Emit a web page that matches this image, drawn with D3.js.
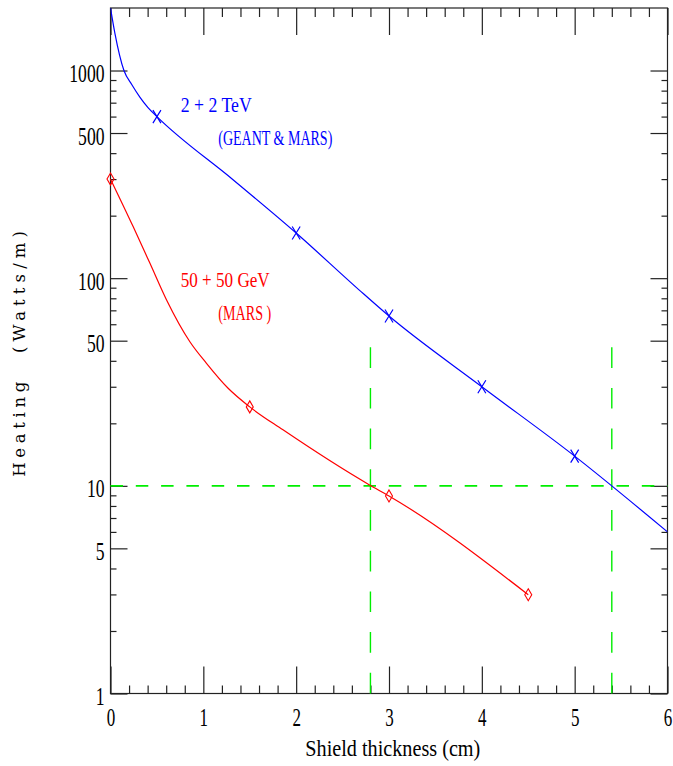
<!DOCTYPE html>
<html>
<head>
<meta charset="utf-8">
<script src="https://cdn.jsdelivr.net/npm/d3@7"></script>
<style>
  html, body { margin: 0; padding: 0; background: #fff; }
  svg { display: block; }
  text { font-family: "Liberation Serif", serif; }
</style>
</head>
<body>
<svg id="chart" width="673" height="766"></svg>
<script>
// ---- data ----
const xTickValues = [0, 1, 2, 3, 4, 5, 6];
const xMinorTicks = d3.range(0, 6.0001, 0.2).map(v => +v.toFixed(1));
const yMajorTicks = [1, 5, 10, 50, 100, 500, 1000];
const yMinorTicks = [2,3,4,6,7,8,9,20,30,40,60,70,80,90,200,300,400,600,700,800,900];

// 2 + 2 TeV (GEANT & MARS) – curve samples and X markers
const tevCurveX = [0, 0.048, 0.145, 0.232, 0.318, 0.404, 0.5, 1.32, 2, 2.68, 3, 4, 5, 6];
const tevCurveY = [2000, 1507, 1000, 852, 743, 663, 600, 298, 165, 87.6, 65.7, 30.0, 13.9, 6.0];
const tevMarkX = [0.5, 2, 3, 4, 5];
const tevMarkY = [600, 165, 65.7, 30.0, 13.9];

// 50 + 50 GeV (MARS) – curve samples and diamond markers
const gevCurveX = [0, 0.245, 0.425, 0.604, 0.855, 1.034, 1.267, 1.5, 1.858, 2.79, 3, 4.5];
const gevCurveY = [300, 176.7, 117.9, 78.5, 49.4, 38.9, 29.5, 24.0, 18.6, 10.1, 8.94, 2.99];
const gevMarkX = [0, 1.5, 3, 4.5];
const gevMarkY = [300, 24.0, 8.94, 2.99];

// green reference lines
const refLevel = 10;
const refThickness = [2.8, 5.4];
const refTop = 47;

// ---- layout ----
const svg = d3.select("#chart");
const L = 110.5, R = 667.5, T = 8, B = 693.5;
const x = d3.scaleLinear().domain([0, 6]).range([L, R]);
const y = d3.scaleLog().domain([1, 2000]).range([B, T]);

const axisColor = "#222";

// frame
svg.append("rect").attr("x", L).attr("y", T).attr("width", R - L).attr("height", B - T)
  .attr("fill", "none").attr("stroke", axisColor).attr("stroke-width", 1.2);

function styleAxis(g) {
  g.select(".domain").remove();
  g.selectAll("line").attr("stroke", axisColor).attr("stroke-width", 1.2);
}

// x axes
const gxB = svg.append("g").attr("transform", `translate(0,${B})`)
  .call(d3.axisBottom(x).tickValues(xTickValues).tickSize(-27).tickPadding(6).tickFormat(d3.format("d")));
styleAxis(gxB);
gxB.selectAll("text").attr("y", 32).attr("dy", null)
  .style("font-family", "Liberation Serif").style("font-size", "25px").attr("fill", "#000")
  .attr("textLength", 8.5).attr("lengthAdjust", "spacingAndGlyphs");
const gxBm = svg.append("g").attr("transform", `translate(0,${B})`)
  .call(d3.axisBottom(x).tickValues(xMinorTicks.filter(v => !xTickValues.includes(v))).tickSize(-8).tickFormat(""));
styleAxis(gxBm);

const gxT = svg.append("g").attr("transform", `translate(0,${T})`)
  .call(d3.axisTop(x).tickValues(xTickValues).tickSize(-27).tickFormat(""));
styleAxis(gxT);
const gxTm = svg.append("g").attr("transform", `translate(0,${T})`)
  .call(d3.axisTop(x).tickValues(xMinorTicks.filter(v => !xTickValues.includes(v))).tickSize(-9).tickFormat(""));
styleAxis(gxTm);

// y axes
const gyL = svg.append("g").attr("transform", `translate(${L},0)`)
  .call(d3.axisLeft(y).tickValues(yMajorTicks).tickSize(-17).tickPadding(6).tickFormat(d3.format("d")));
styleAxis(gyL);
gyL.selectAll("text").attr("dy", null).attr("y", 11)
  .style("font-family", "Liberation Serif").style("font-size", "25px").attr("fill", "#000")
  .each(function(d) { d3.select(this).attr("textLength", String(d).length * 8.8).attr("lengthAdjust", "spacingAndGlyphs"); });
const gyLm = svg.append("g").attr("transform", `translate(${L},0)`)
  .call(d3.axisLeft(y).tickValues(yMinorTicks).tickSize(-6).tickFormat(""));
styleAxis(gyLm);

const gyR = svg.append("g").attr("transform", `translate(${R},0)`)
  .call(d3.axisRight(y).tickValues(yMajorTicks).tickSize(-17).tickFormat(""));
styleAxis(gyR);
const gyRm = svg.append("g").attr("transform", `translate(${R},0)`)
  .call(d3.axisRight(y).tickValues(yMinorTicks).tickSize(-6).tickFormat(""));
styleAxis(gyRm);

// green dashed reference lines
const green = "#00ee00";
svg.append("line")
  .attr("x1", x(0)).attr("x2", x(6)).attr("y1", y(refLevel)).attr("y2", y(refLevel))
  .attr("stroke", green).attr("stroke-width", 1.6).attr("stroke-dasharray", "12.5,12.8");
refThickness.forEach(t => {
  svg.append("line")
    .attr("x1", x(t)).attr("x2", x(t)).attr("y1", y(1)).attr("y2", y(refTop))
    .attr("stroke", green).attr("stroke-width", 1.4).attr("stroke-dasharray", "20.7,20");
});

// curves
svg.append("clipPath").attr("id", "plotclip")
  .append("rect").attr("x", L).attr("y", T).attr("width", R - L).attr("height", B - T);
const line = d3.line().x(d => x(d[0])).y(d => y(d[1])).curve(d3.curveMonotoneX);

const blue = "#0000ff", red = "#ff0000";
svg.append("path").datum(d3.zip(tevCurveX, tevCurveY)).attr("d", line)
  .attr("fill", "none").attr("stroke", blue).attr("stroke-width", 1.2).attr("clip-path", "url(#plotclip)");
svg.append("path").datum(d3.zip(gevCurveX, gevCurveY)).attr("d", line)
  .attr("fill", "none").attr("stroke", red).attr("stroke-width", 1.2);

// markers
svg.append("g").selectAll("path").data(d3.zip(tevMarkX, tevMarkY)).join("path")
  .attr("transform", d => `translate(${x(d[0])},${y(d[1])})`)
  .attr("d", "M-4,-6.5L4,6.5M-4,6.5L4,-6.5")
  .attr("stroke", blue).attr("stroke-width", 1.2).attr("fill", "none");
svg.append("g").selectAll("path").data(d3.zip(gevMarkX, gevMarkY)).join("path")
  .attr("transform", d => `translate(${x(d[0])},${y(d[1])})`)
  .attr("d", "M0,-6L3.5,0L0,6L-3.5,0Z")
  .attr("stroke", red).attr("stroke-width", 1.1).attr("fill", "none");

// annotations
function label(txt, px, py, len, color, size) {
  svg.append("text").attr("x", px).attr("y", py).text(txt)
    .attr("fill", color).style("font-size", size + "px")
    .attr("textLength", len).attr("lengthAdjust", "spacingAndGlyphs");
}
label("2 + 2 TeV", 180.7, 111.7, 71, blue, 21);
label("(GEANT & MARS)", 218.3, 145, 114, blue, 21);
label("50 + 50 GeV", 180.7, 287.3, 89, red, 21);
label("(MARS )", 218.3, 320, 53, red, 21);

// axis titles
label("Shield thickness (cm)", 305.3, 756, 175, "#000", 23);

function ylab(txt, py, len) {
  svg.append("text").attr("transform", `translate(25,${py}) rotate(-90)`).text(txt)
    .style("font-family", "DejaVu Serif").style("font-size", "16.5px").attr("fill", "#000")
    .attr("textLength", len).attr("lengthAdjust", "spacing");
}
ylab("Heating", 476.7, 95);
ylab("(Watts/m)", 353, 122);
</script>
</body>
</html>
